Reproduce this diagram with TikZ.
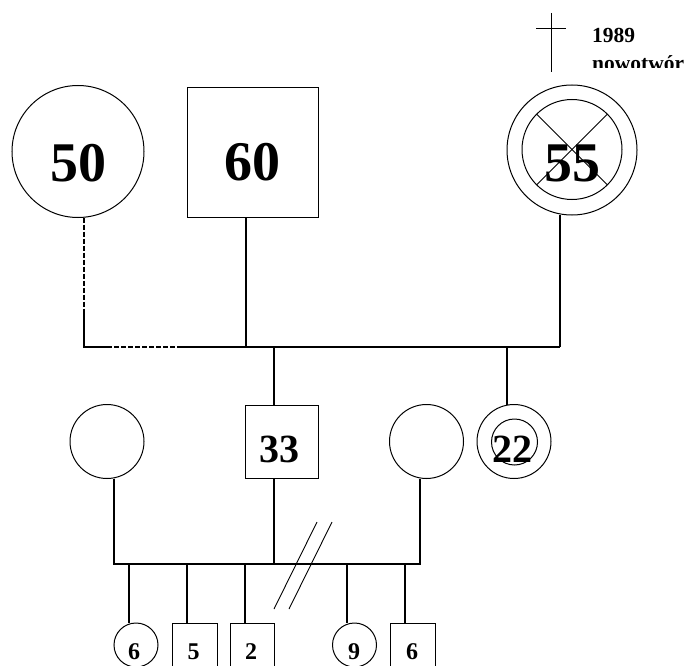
\documentclass[tikz,border=0pt]{standalone}
\usepackage{fontspec}
\setmainfont{Liberation Serif}
\usetikzlibrary{calc}
\begin{document}
\begin{tikzpicture}[x=1pt,y=-1pt,
  shp/.style={draw,line width=1pt,inner sep=0pt,outer sep=0pt},
  circ/.style={shp,circle,minimum size=#1},
  sqr/.style={shp,rectangle,minimum size=#1},
  link/.style={line width=1.3pt},
  dashlink/.style={line width=1.3pt,dash pattern=on 5pt off 2pt},
  thin/.style={line width=0.9pt},
  big/.style={font=\bfseries\fontsize{56}{60}\selectfont,inner sep=0pt,anchor=base},
  mid/.style={font=\bfseries\fontsize{40}{44}\selectfont,inner sep=0pt,anchor=base},
  small/.style={font=\bfseries\fontsize{24}{26}\selectfont,inner sep=0pt,anchor=base},
  note/.style={font=\bfseries\fontsize{21.5}{24}\selectfont,inner sep=0pt,anchor=base west}]
\useasboundingbox (0,0) rectangle (688,666);
\clip (0,0) rectangle (688,666);

% generation I
\node[circ=132pt] (g50) at (78,151.5) {};
\node[big] (t50) at (78.5,182) {50};
\node[shp,rectangle,minimum width=131pt,minimum height=129pt] (g60) at (252.5,152.5) {};
\node[big] (t60) at (252.5,180) {60};
\node[circ=130pt] (g55) at (572,150) {};
\node[circ=100pt] (g55i) at (572,149.5) {};
\draw[thin] (g55i.135) -- (g55i.-45);
\draw[thin] (g55i.45) -- (g55i.-135);
\node[big] (t55) at (572.5,182) {55};

% death mark and note
\coordinate (cT) at (551,13);
\coordinate (cB) at (551,72);
\coordinate (cL) at (536,28);
\coordinate (cR) at (566,28);
\draw[thin] (cT) -- (cB);
\draw[thin] (cL) -- (cR);
\node[note] (t1989) at (592,43) {1989};
\begin{scope}
\clip (580,0) rectangle (688,67.5);
\node[note] (tnow) at (592,71) {nowotwór};
\end{scope}

% sibship line I
\coordinate (L1) at (84,347);
\coordinate (R1) at (560,347);
\coordinate (d50) at (84,313);
\coordinate (h1) at (107,347);
\coordinate (h2) at (182,347);
\draw[dashlink] ([xshift=6pt]g50.south) -- (d50);
\draw[link] (d50) -- (L1) -- (h1);
\draw[dashlink] (h1) -- (h2);
\draw[link] (h2) -- (R1);
\coordinate (j60) at (246,347);
\draw[link] (j60) -- (j60 |- g60.south);
\draw[link] (R1) -- (R1 |- g55.south);

% generation II
\node[sqr=73pt] (g33) at (281.5,441.5) {};
\node[mid] (t33) at (279.5,462) {33};
\node[circ=74pt] (g22) at (514,441.5) {};
\node[circ=46pt] (g22i) at (514.5,442) {};
\node[mid] (t22) at (512.5,462) {22};
\node[circ=74pt] (wl) at (107,441.5) {};
\node[circ=74pt] (wr) at (426.5,441.5) {};
\coordinate (j33) at (274,347);
\coordinate (j22) at (507,347);
\draw[link] (j33) -- (j33 |- g33.north);
\draw[link] (j22) -- (j22 |- g22.north);

% sibship line II
\coordinate (L2) at (114,564);
\coordinate (R2) at (420,564);
\coordinate (j33b) at (274,564);
\draw[link] (L2 |- wl.south) -- (L2) -- (R2) -- (R2 |- wr.south);
\draw[link] (j33b |- g33.south) -- (j33b);

% generation III
\node[circ=44pt] (c1) at (136,645) {};
\node[sqr=45pt] (c2) at (194.5,645.5) {};
\node[sqr=44pt] (c3) at (252,645.5) {};
\node[circ=44pt] (c4) at (354.5,645) {};
\node[sqr=45pt] (c5) at (412.5,645.5) {};
\node[small] (tc1) at (134,659) {6};
\node[small] (tc2) at (193.5,659) {5};
\node[small] (tc3) at (251,659) {2};
\node[small] (tc4) at (354,659) {9};
\node[small] (tc5) at (412,659) {6};
\coordinate (k1) at (129,564);
\coordinate (k2) at (187,564);
\coordinate (k3) at (245,564);
\coordinate (k4) at (347,564);
\coordinate (k5) at (405,564);
\draw[link] (k1) -- (k1 |- c1.north);
\draw[link] (k2) -- (k2 |- c2.north);
\draw[link] (k3) -- (k3 |- c3.north);
\draw[link] (k4) -- (k4 |- c4.north);
\draw[link] (k5) -- (k5 |- c5.north);

% divorce slashes
\coordinate (s1a) at (317,522);
\coordinate (s1b) at (274,609);
\coordinate (s2a) at (332,522);
\coordinate (s2b) at (289,609);
\draw[thin] (s1a) -- (s1b);
\draw[thin] (s2a) -- (s2b);
\end{tikzpicture}
\end{document}
